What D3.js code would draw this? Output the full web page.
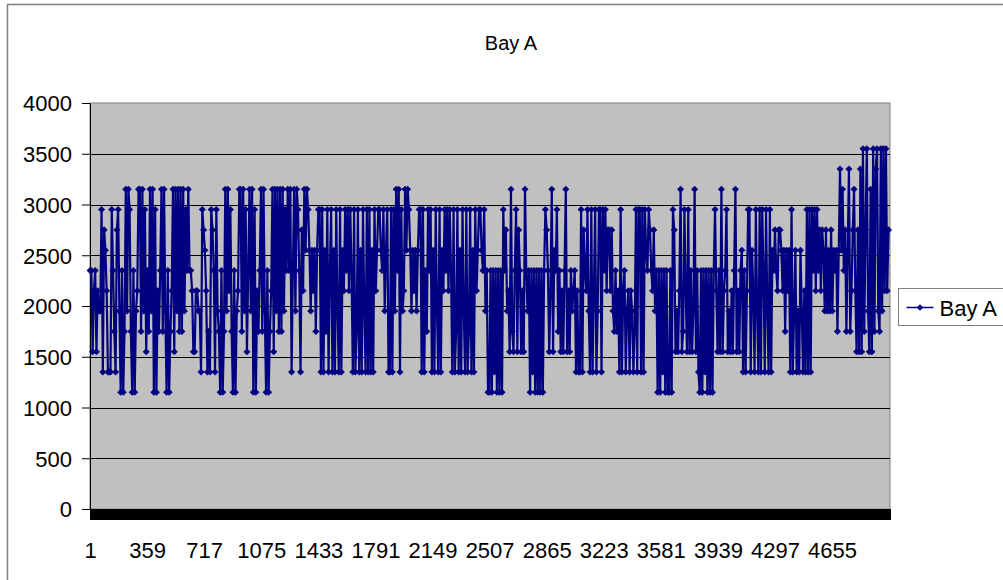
<!DOCTYPE html>
<html>
<head>
<meta charset="utf-8">
<script src="https://cdn.jsdelivr.net/npm/d3@7"></script>
<style>
  body { margin: 0; background: #fff; }
  svg { display: block; }
  text { font-family: "Liberation Sans", Arial, sans-serif; fill: #000; }
</style>
</head>
<body>
<div id="chart"></div>
<script>
// category axis: 5018 readings, one value every 8 categories
const categoryCount = 5018;
const sampleStep = 8;
const xLabels = [1, 359, 717, 1075, 1433, 1791, 2149, 2507, 2865, 3223, 3581, 3939, 4297, 4655];
const yTicks = [0, 500, 1000, 1500, 2000, 2500, 3000, 3500, 4000];
const seriesName = "Bay A";

const bayA = [
  2350,2350,1550,2150,2350,1550,2150,1950,
  1950,2950,1350,2750,2550,2150,1350,1350,
  1350,2950,2350,1750,1350,2750,2950,1950,
  1150,2350,1150,1750,3150,1950,3150,
  2950,1750,1150,2350,1150,1950,2150,3150,
  3150,1750,3150,1950,2950,1550,2350,1750,
  3150,1950,3150,1150,2950,1150,2150,1750,
  2350,3150,1750,3150,1950,1150,2350,1150,
  1750,2150,3150,1550,3150,1950,3150,1750,
  3150,1750,3150,1950,2950,2350,3150,
  2350,2350,2150,1550,1550,2150,2150,1950,
  1950,1350,2950,2750,2550,2150,1350,1750,
  1350,2950,2750,2350,1350,2950,1950,1750,
  1150,2350,1150,1750,3150,1950,3150,2150,
  2950,1750,1150,2350,1150,1950,2150,3150,
  3150,1750,3150,1950,2950,1550,2350,
  3150,1950,3150,1150,2950,1150,2150,1750,
  2350,3150,1750,3150,1950,1150,2350,1150,
  1750,2150,3150,1550,3150,1950,3150,1750,
  3150,1750,3150,1950,2950,2350,3150,2350,
  3150,1350,2350,3150,1950,3150,2950,2350,
  1350,2750,2150,3150,2550,3150,2950,
  2550,1950,2550,2150,2550,1750,2550,2950,
  2950,1350,2950,1350,2550,1750,2950,1350,
  2350,2950,1350,2550,1350,2950,1950,1350,
  2950,1350,2550,2150,2950,2350,2950,2150,
  2950,2350,1350,2950,1350,1750,2950,1350,
  2550,1350,2950,1950,1350,2950,1350,
  2950,1350,2550,1350,2950,2150,2550,2950,
  2950,2550,2350,2950,1950,2550,2950,1350,
  1350,2950,1350,2950,1950,3150,2350,3150,
  1350,2950,1950,2150,3150,2550,3150,2950,
  2550,1950,2550,2150,2550,1950,2550,2950,
  2950,1350,2950,1350,2350,1750,2950,
  2350,2950,1350,2550,1350,2950,1950,1350,
  2950,1350,2550,2150,2950,2350,2950,2150,
  2950,2350,1350,2950,1350,1750,2950,1350,
  2550,1350,2950,1950,1350,2950,1350,1750,
  2950,1350,2550,1350,2950,2150,2550,2950,
  2950,2550,2350,2950,1950,2350,1150,
  1150,2350,1150,2350,1350,2350,1150,2350,
  1150,2350,1150,2950,2350,2750,1950,2150,
  1550,3150,1750,1550,2350,2950,1550,2750,
  2350,1550,2150,1550,3150,2350,1950,2350,
  1150,2350,1350,2350,1150,2350,1150,2350,
  1150,2350,1150,2350,2950,2750,2350,
  1550,2150,3150,1550,2550,2350,2950,1750,
  2350,1550,2150,1550,2350,3150,1550,2150,
  1550,2350,1950,2150,2350,1350,2150,1350,
  1350,2950,1350,2750,2350,2150,2950,1950,
  1350,2950,1350,2150,2950,1350,1950,2950,
  2950,1350,2950,2350,2950,2150,2750,
  2750,2150,2750,1950,1750,2350,1750,2150,
  1350,2950,1350,2150,2350,1350,1950,2150,
  1350,2150,1950,1350,1750,2950,1350,2950,
  2950,1350,2950,1350,2950,2550,2350,2950,
  2750,2350,2150,2750,1950,2350,1150,2350,
  1150,2350,1350,2350,1150,2350,1150,
  1150,2350,1150,2950,2750,1550,1950,1550,
  2150,3150,1550,1750,2950,2150,1550,2950,
  1550,2350,1550,1950,3150,1550,2350,1350,
  1150,2350,1150,2350,1350,2350,1150,2350,
  1150,2350,1150,2350,2950,2150,1550,2350,
  1550,3150,1550,2150,2350,2950,1550,
  1950,1550,2150,1550,2350,3150,1550,2150,
  1550,2350,2550,1350,2350,1350,2150,2950,
  2950,1350,2550,2150,1350,2950,1950,1350,
  2950,1350,2950,2350,1350,2950,1950,1350,
  2950,1350,2550,2350,2750,2350,2150,2750,
  2750,2550,2150,2550,1750,2550,2150,
  2550,1350,2950,1350,1950,2550,1350,1950,
  1350,2550,1950,1350,2150,1350,2950,1350,
  2950,1350,2950,2350,2950,2150,2950,2350,
  2750,2150,2750,2550,1950,2750,1950,2550,
  1950,2750,1950,2550,2350,2550,1750,2550,
  3350,2550,3150,2350,2750,1750,2550,
  3350,1750,2150,2750,3150,2150,1550,2750,
  1550,3350,1550,3550,1750,2750,3550,1950,
  1550,3150,1550,3550,1750,3350,3550,1950,
  1750,3550,1950,3550,2150,3550,2150,2750
];

const width = 1003, height = 580;
const plot = { left: 90, right: 890, top: 103, bottom: 509 };
const lineColor = "#000080";

const svg = d3.select("#chart")
    .append("svg")
    .attr("width", width)
    .attr("height", height);

// outer chart frame (runs off the right and bottom edge)
svg.append("rect")
    .attr("x", 7.5).attr("y", 4.5)
    .attr("width", 1020).attr("height", 620)
    .attr("fill", "#fff")
    .attr("stroke", "#7f7f7f")
    .attr("stroke-width", 1.5);

const x = d3.scaleLinear()
    .domain([0.5, categoryCount + 0.5])
    .range([plot.left, plot.right]);

const y = d3.scaleLinear()
    .domain([0, 4000])
    .range([plot.bottom, plot.top]);

// plot area
svg.append("rect")
    .attr("x", plot.left).attr("y", plot.top)
    .attr("width", plot.right - plot.left)
    .attr("height", plot.bottom - plot.top)
    .attr("fill", "#c0c0c0")
    .attr("stroke", "#808080");

// gridlines
svg.append("g")
    .selectAll("line")
    .data(yTicks.filter(d => d > 0 && d < 4000))
    .join("line")
    .attr("x1", plot.left).attr("x2", plot.right)
    .attr("y1", d => Math.round(y(d)) + 0.5)
    .attr("y2", d => Math.round(y(d)) + 0.5)
    .attr("stroke", "#000");

// y axis
const yAxis = svg.append("g")
    .attr("transform", `translate(${plot.left},0)`)
    .call(d3.axisLeft(y).tickValues(yTicks).tickFormat(d3.format("d"))
        .tickSize(8).tickPadding(10).tickSizeOuter(0));
yAxis.select(".domain").attr("stroke", "#000");
yAxis.selectAll("text").style("font-size", "22px").attr("dy", "0.36em");

// x axis: a tick mark between every category -> solid black band
const xTickAxis = svg.append("g")
    .attr("transform", `translate(0,${plot.bottom})`)
    .call(d3.axisBottom(x)
        .tickValues(d3.range(0.5, categoryCount + 1, 1))
        .tickSize(11).tickSizeOuter(0).tickFormat(""));
xTickAxis.selectAll(".tick line").attr("shape-rendering", "crispEdges");

const xLabelAxis = svg.append("g")
    .attr("transform", `translate(0,${plot.bottom})`)
    .call(d3.axisBottom(x).tickValues(xLabels).tickFormat(d3.format("d"))
        .tickSize(0).tickPadding(33));
xLabelAxis.select(".domain").remove();
xLabelAxis.selectAll("text").style("font-size", "22px");

// series
const points = bayA.map((v, i) => ({ cat: 1 + i * sampleStep, value: v }));

svg.append("path")
    .datum(points)
    .attr("fill", "none")
    .attr("stroke", lineColor)
    .attr("stroke-width", 2.2)
    .attr("stroke-linejoin", "round")
    .attr("d", d3.line().x(d => x(d.cat)).y(d => y(d.value)));

const diamond = d3.symbol().type(d3.symbolDiamond2).size(32);
svg.append("g")
    .selectAll("path")
    .data(points)
    .join("path")
    .attr("transform", d => `translate(${x(d.cat)},${y(d.value)})`)
    .attr("d", diamond)
    .attr("fill", lineColor);

// title
svg.append("text")
    .attr("x", 511).attr("y", 50)
    .attr("text-anchor", "middle")
    .style("font-size", "20px")
    .text(seriesName);

// legend
const legend = svg.append("g").attr("transform", "translate(898.5,288.5)");
legend.append("rect")
    .attr("width", 130).attr("height", 37)
    .attr("fill", "#fff").attr("stroke", "#808080");
legend.append("line")
    .attr("x1", 8).attr("x2", 35).attr("y1", 19).attr("y2", 19)
    .attr("stroke", lineColor).attr("stroke-width", 1.5);
legend.append("path")
    .attr("transform", "translate(21.5,19)")
    .attr("d", d3.symbol().type(d3.symbolDiamond2).size(26))
    .attr("fill", lineColor);
legend.append("text")
    .attr("x", 41).attr("y", 27)
    .style("font-size", "22px")
    .text(seriesName);
</script>
</body>
</html>
